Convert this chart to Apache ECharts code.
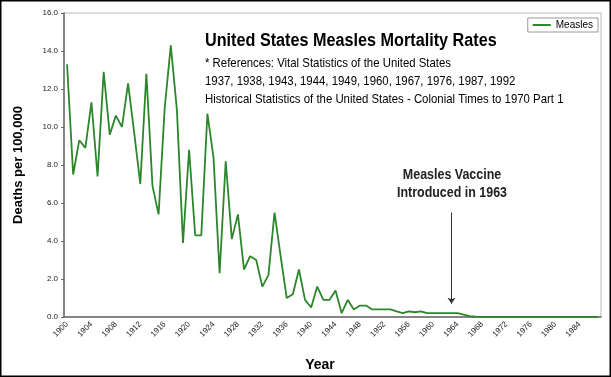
<!DOCTYPE html>
<html>
<head>
<meta charset="utf-8">
<script src="https://cdn.jsdelivr.net/npm/echarts@6/dist/echarts.min.js"></script>
<style>
	html, body { margin: 0; padding: 0; background: #fff; }
	#main { width: 611px; height: 377px; }
</style>
</head>
<body>
<div id="main"></div>
<script>
	// years 1900 - 1987
	var years = [];
	for (var y = 1900; y <= 1987; y++) {
		years.push(String(y));
	}

	var measles = [
		13.3, 7.5, 9.3, 8.9, 11.3, 7.4, 12.9, 9.6, 10.6, 10.0,
		12.3, 9.7, 7.0, 12.8, 6.9, 5.4, 11.0, 14.3, 10.9, 3.9,
		8.8, 4.3, 4.3, 10.7, 8.4, 2.3, 8.2, 4.1, 5.4, 2.5,
		3.2, 3.0, 1.6, 2.2, 5.5, 3.2, 1.0, 1.2, 2.5, 0.9,
		0.5, 1.6, 0.9, 0.9, 1.4, 0.2, 0.9, 0.4, 0.6, 0.6,
		0.4, 0.4, 0.4, 0.4, 0.3, 0.2, 0.3, 0.25, 0.3, 0.2,
		0.2, 0.2, 0.2, 0.2, 0.2, 0.12, 0.05, 0.02, 0.01, 0.01,
		0.01, 0.01, 0.01, 0.01, 0.01, 0.01, 0.01, 0.01, 0.01, 0.01,
		0.01, 0.01, 0.01, 0.01, 0.01, 0.01, 0.01, 0.01
	];

	var yTicks = { min: 0, max: 16, interval: 2 };
	var vaccineYear = '1963';

	var titleText = 'United States Measles Mortality Rates';
	var refLines = [
		'* References: Vital Statistics of the United States',
		'1937, 1938, 1943, 1944, 1949, 1960, 1967, 1976, 1987, 1992',
		'Historical Statistics of the United States - Colonial Times to 1970 Part 1'
	];
	var noteLines = ['Measles Vaccine', 'Introduced in 1963'];

	var font = "'Liberation Sans', Arial, sans-serif";

	// no narrow font installed, so squeeze the text a bit
	var graphics = [];
	graphics.push({
		type: 'text', x: 205, y: 32, scaleX: 0.9, silent: true,
		style: { text: titleText, fontFamily: font, fontSize: 18, fontWeight: 'bold', fill: '#000', verticalAlign: 'top' }
	});
	refLines.forEach(function (t, i) {
		graphics.push({
			type: 'text', x: 205, y: 57 + i * 18, scaleX: 0.89, silent: true,
			style: { text: t, fontFamily: font, fontSize: 12.8, fill: '#000', verticalAlign: 'top' }
		});
	});
	noteLines.forEach(function (t, i) {
		graphics.push({
			type: 'text', x: 452, y: 168 + i * 18, scaleX: 0.89, silent: true,
			style: { text: t, fontFamily: font, fontSize: 14, fontWeight: 'bold', fill: '#222', align: 'center', verticalAlign: 'top' }
		});
	});
	graphics.push({
		type: 'rect', silent: true,
		shape: { x: 0.5, y: 0.5, width: 610, height: 376 },
		style: { fill: 'none', stroke: '#000', lineWidth: 2 }
	});

	var myChart = echarts.init(document.getElementById('main'));
	var option = {
		backgroundColor: '#fff',
		animation: false,
		legend: {
			data: ['Measles'],
			right: 13,
			top: 18,
			padding: [2, 5, 2, 5],
			borderColor: '#999',
			borderWidth: 1,
			itemWidth: 18,
			itemHeight: 2,
			icon: 'rect',
			textStyle: { fontFamily: font, fontSize: 10, color: '#000' }
		},
		grid: {
			left: 64,
			right: 10,
			top: 13,
			bottom: 60,
			outerBoundsMode: 'none',
			containLabel: false,
			show: true,
			borderColor: '#bbb',
			borderWidth: 1
		},
		xAxis: {
			type: 'category',
			data: years,
			name: 'Year',
			nameLocation: 'middle',
			nameGap: 41,
			nameTextStyle: { fontFamily: font, fontSize: 14, fontWeight: 'bold', color: '#000', padding: [0, 25, 0, 0] },
			axisLine: { lineStyle: { color: '#666', width: 1.5 } },
			axisTick: { interval: 0, length: 3, lineStyle: { color: '#666' } },
			axisLabel: {
				interval: 3,
				rotate: 45,
				margin: 6,
				fontFamily: font,
				fontSize: 8,
				color: '#222'
			},
			splitLine: { show: false }
		},
		yAxis: {
			type: 'value',
			min: yTicks.min,
			max: yTicks.max,
			interval: yTicks.interval,
			name: 'Deaths per 100,000',
			nameLocation: 'middle',
			nameGap: 39,
			nameTextStyle: { fontFamily: font, fontSize: 13, fontWeight: 'bold', color: '#000' },
			axisLine: { show: true, lineStyle: { color: '#666', width: 1.5 } },
			axisTick: { show: true, length: 3, lineStyle: { color: '#666' } },
			axisLabel: {
				margin: 6,
				fontFamily: font,
				fontSize: 8,
				color: '#222',
				formatter: function (v) { return v.toFixed(1); }
			},
			splitLine: { show: false }
		},
		series: [{
			name: 'Measles',
			type: 'line',
			data: measles,
			color: '#2c862c',
			symbol: 'none',
			lineStyle: { width: 1.8, color: '#2c862c' },
			markLine: {
				silent: true,
				symbol: ['none', 'arrow'],
				symbolSize: [6, 6],
				label: { show: false },
				lineStyle: { color: '#333', width: 1, type: 'solid' },
				data: [[
					{ coord: [vaccineYear, 5.5] },
					{ coord: [vaccineYear, 0.7] }
				]]
			}
		}],
		graphic: graphics
	};

	option && myChart.setOption(option);
</script>
</body>
</html>
